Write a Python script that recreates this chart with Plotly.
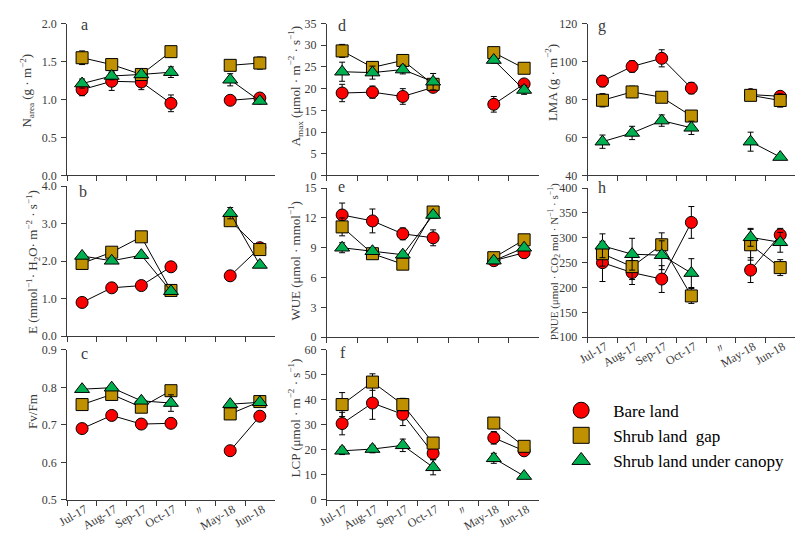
import plotly.graph_objects as go

# ---------------- data ----------------
months = ["Jul-17", "Aug-17", "Sep-17", "Oct-17", "〃", "May-18", "Jun-18"]
series_names = ["Bare land", "Shrub land\u00a0 gap", "Shrub land under canopy"]

# a  N_area
narea_bare = [1.13, 1.24, 1.23, 0.95, None, 0.99, 1.02]
narea_gap = [1.55, 1.46, 1.33, 1.63, None, 1.45, 1.48]
narea_can = [1.21, 1.31, 1.33, 1.36, None, 1.26, 0.98]
narea_bare_se = [0.08, 0.12, 0.10, 0.11, 0, 0.02, 0.03]
narea_gap_se = [0.09, 0.04, 0.05, 0.07, 0, 0.03, 0.08]
narea_can_se = [0.06, 0.05, 0.04, 0.07, 0, 0.08, 0.03]

# b  E
e_bare = [0.90, 1.29, 1.35, 1.85, None, 1.61, 2.36]
e_gap = [1.94, 2.24, 2.65, 1.22, None, 3.08, 2.31]
e_can = [2.14, 2.01, 2.16, 1.20, None, 3.28, 1.90]
e_bare_se = [0.05, 0.05, 0.05, 0.05, 0, 0.05, 0.05]
e_gap_se = [0.05, 0.05, 0.05, 0.05, 0, 0.05, 0.05]
e_can_se = [0.05, 0.05, 0.05, 0.05, 0, 0.15, 0.05]

# c  Fv/Fm
fvfm_bare = [0.690, 0.725, 0.702, 0.704, None, 0.631, 0.723]
fvfm_gap = [0.754, 0.781, 0.747, 0.791, None, 0.729, 0.762]
fvfm_can = [0.795, 0.799, 0.764, 0.758, None, 0.755, 0.760]
fvfm_bare_se = [0.004, 0.004, 0.008, 0.004, 0, 0.004, 0.004]
fvfm_gap_se = [0.004, 0.004, 0.004, 0.004, 0, 0.004, 0.004]
fvfm_can_se = [0.004, 0.004, 0.004, 0.022, 0, 0.004, 0.004]

# d  A_max
amax_bare = [19.0, 19.2, 18.2, 20.3, None, 16.4, 21.1]
amax_gap = [28.7, 24.9, 26.5, 21.0, None, 28.3, 24.7]
amax_can = [23.9, 23.7, 24.4, 21.6, None, 26.6, 19.7]
amax_bare_se = [2.0, 1.4, 1.8, 0.8, 0, 1.8, 0.7]
amax_gap_se = [1.5, 1.3, 1.2, 1.0, 0, 0.8, 0.5]
amax_can_se = [2.2, 1.5, 1.0, 1.9, 0, 0.7, 1.0]

# e  WUE
wue_bare = [12.3, 11.7, 10.4, 10.0, None, 7.7, 8.5]
wue_gap = [11.1, 8.4, 7.35, 12.6, None, 8.0, 9.8]
wue_can = [9.0, 8.65, 8.3, 12.3, None, 7.7, 9.0]
wue_bare_se = [1.2, 1.2, 0.6, 0.8, 0, 0.2, 0.3]
wue_gap_se = [0.9, 0.3, 0.3, 0.3, 0, 0.3, 0.3]
wue_can_se = [0.5, 0.3, 0.3, 0.3, 0, 0.3, 0.3]

# f  LCP
lcp_bare = [30.5, 38.7, 34.2, 18.6, None, 24.8, 19.6]
lcp_gap = [38.1, 47.1, 38.1, 22.7, None, 30.7, 21.4]
lcp_can = [19.6, 20.3, 21.8, 13.0, None, 16.6, 9.5]
lcp_bare_se = [4.5, 6.5, 4.5, 2.5, 0, 2.5, 1.5]
lcp_gap_se = [4.8, 3.3, 2.5, 1.5, 0, 1.5, 1.0]
lcp_can_se = [1.5, 1.5, 2.5, 3.0, 0, 2.0, 0.5]

# g  LMA
lma_bare = [89.7, 97.4, 101.7, 86.0, None, 82.6, 81.7]
lma_gap = [79.6, 84.0, 81.2, 71.3, None, 82.2, 79.5]
lma_can = [57.8, 62.4, 68.9, 65.1, None, 57.8, 49.7]
lma_bare_se = [3.0, 3.0, 4.5, 3.0, 0, 1.5, 1.5]
lma_gap_se = [3.5, 3.0, 2.5, 2.0, 0, 1.5, 3.5]
lma_can_se = [3.5, 3.5, 3.0, 3.5, 0, 5.0, 0.5]

# h  PNUE
pnue_bare = [250, 230, 217, 331, None, 235, 306]
pnue_gap = [268, 242, 286, 183, None, 286, 240]
pnue_can = [284, 267, 265, 229, None, 301, 291]
pnue_bare_se = [38, 24, 27, 32, 0, 25, 13]
pnue_gap_se = [25, 26, 24, 15, 0, 31, 16]
pnue_can_se = [24, 32, 29, 29, 0, 18, 20]

# ---------------- layout helpers ----------------
W, H = 798, 537
FONT = "Liberation Serif"
TXT = "#3a3a3a"
colors = ["#FF0000", "#BF9000", "#00B050"]
symbols = ["circle", "square", "triangle-up"]
msizes = [12, 12, 13]


def fx(v):
    return v / W


def fy(v):
    return 1 - v / H


# panel: id, letter, values, errors, x-range px, y-range px, y range, dtick, tickformat,
# title, title centre (px), title size, show x labels, letter centre (px)
panels = [
    ("", "a", [narea_bare, narea_gap, narea_can], [narea_bare_se, narea_gap_se, narea_can_se],
     (58, 268), (17, 173), (0, 2.0), 0.5, ".1f", "N<sub>area</sub> (g · m<sup>−2</sup>)",
     (17, 86), 13, False, (75, 18)),
    ("2", "b", [e_bare, e_gap, e_can], [e_bare_se, e_gap_se, e_can_se],
     (58, 268), (184, 338), (0, 4.0), 1.0, ".1f",
     "E (mmol<sup>−1</sup>· H<sub>2</sub>O· m<sup>−2</sup> · s<sup>−1</sup>)", (23, 262), 13, False,
     (74, 189)),
    ("3", "c", [fvfm_bare, fvfm_gap, fvfm_can], [fvfm_bare_se, fvfm_gap_se, fvfm_can_se],
     (58, 268), (352, 506), (0.5, 0.9), 0.1, ".1f", "Fv/Fm", (22, 415), 13, True, (75, 356)),
    ("4", "d", [amax_bare, amax_gap, amax_can], [amax_bare_se, amax_gap_se, amax_can_se],
     (321, 536), (17, 173), (0, 35), 5, "d",
     "A<sub>max</sub> (μmol · m<sup>−2</sup> · s<sup>−1</sup>)", (289, 81), 13, False, (336, 19)),
    ("5", "e", [wue_bare, wue_gap, wue_can], [wue_bare_se, wue_gap_se, wue_can_se],
     (321, 536), (186, 339), (0, 15), 3, "d", "WUE (μmol · mmol<sup>−1</sup>)", (288, 260), 13, False,
     (336, 184)),
    ("6", "f", [lcp_bare, lcp_gap, lcp_can], [lcp_bare_se, lcp_gap_se, lcp_can_se],
     (321, 536), (352, 506), (0, 60), 10, "d",
     "LCP (μmol · m<sup>−2</sup> · s<sup>−1</sup>)", (288, 422), 13, True, (337, 355)),
    ("7", "g", [lma_bare, lma_gap, lma_can], [lma_bare_se, lma_gap_se, lma_can_se],
     (585, 795), (17, 173), (40, 120), 20, "d", "LMA (g · m<sup>−2</sup>)", (548, 78), 13, False,
     (600, 19)),
    ("8", "h", [pnue_bare, pnue_gap, pnue_can], [pnue_bare_se, pnue_gap_se, pnue_can_se],
     (585, 795), (186, 339), (100, 400), 50, "d",
     "PNUE (μmol · CO<sub>2</sub> mol · N<sup>−1</sup> · s<sup>−1</sup>)", (551, 262), 11, True,
     (600, 185)),
]

fig = go.Figure()
annotations = []
layout = {}

for (pid, letter, vals, errs, (x0, x1), (y0, y1), yr, dt, tf, title, (tx, ty), tfs, showx,
     (lx, ly)) in panels:
    xa = "x" + pid
    ya = "y" + pid
    for k in range(3):
        fig.add_trace(go.Scatter(
            x=months, y=vals[k], xaxis=xa, yaxis=ya, mode="lines+markers",
            line=dict(color="black", width=1),
            marker=dict(symbol=symbols[k], color=colors[k], size=msizes[k],
                        line=dict(color="black", width=1)),
            error_y=dict(type="data", array=errs[k], visible=True, color="black",
                         thickness=1, width=3),
            connectgaps=False, showlegend=False, name=series_names[k],
        ))
    layout["xaxis" + pid] = dict(
        domain=[fx(x0), fx(x1)], anchor=ya, type="category",
        categoryorder="array", categoryarray=months, range=[-0.5, 6.5],
        tickson="boundaries", ticks="outside", ticklen=5, tickcolor=TXT,
        showline=True, linecolor=TXT, linewidth=1, showgrid=False, zeroline=False,
        showticklabels=showx, tickangle=-30, ticklabelshift=3, ticklabelstandoff=-3,
        tickfont=dict(family=FONT, size=12, color=TXT),
    )
    layout["yaxis" + pid] = dict(
        domain=[fy(y1), fy(y0)], anchor=xa, range=list(yr), dtick=dt, tick0=yr[0],
        tickformat=tf, ticks="outside", ticklen=5, tickcolor=TXT, ticklabelstandoff=2,
        showline=True, linecolor=TXT, linewidth=1, showgrid=False, zeroline=False,
        tickfont=dict(family=FONT, size=12, color=TXT),
    )
    annotations.append(dict(
        text=title, x=fx(tx), y=fy(ty), xref="paper", yref="paper", showarrow=False,
        textangle=-90, xanchor="center", yanchor="middle",
        font=dict(family=FONT, size=tfs, color=TXT),
    ))
    annotations.append(dict(
        text=letter, x=fx(lx), y=fy(ly), xref="paper", yref="paper", showarrow=False,
        xanchor="center", yanchor="middle",
        font=dict(family=FONT, size=16, color=TXT),
    ))

# legend entries
for k in range(3):
    fig.add_trace(go.Scatter(
        x=[None], y=[None], xaxis="x", yaxis="y", mode="markers", name=series_names[k],
        marker=dict(symbol=symbols[k], color=colors[k], size=18, line=dict(color="black", width=1)),
        showlegend=True,
    ))

fig.update_layout(
    width=W, height=H, margin=dict(l=0, r=0, t=0, b=0),
    paper_bgcolor="white", plot_bgcolor="white",
    annotations=annotations,
    legend=dict(x=fx(546), y=fy(396), xanchor="left", yanchor="top",
                font=dict(family=FONT, size=17, color="black"),
                bgcolor="rgba(0,0,0,0)", itemwidth=54, tracegroupgap=0),
    **layout,
)

fig.write_html("out.html")
